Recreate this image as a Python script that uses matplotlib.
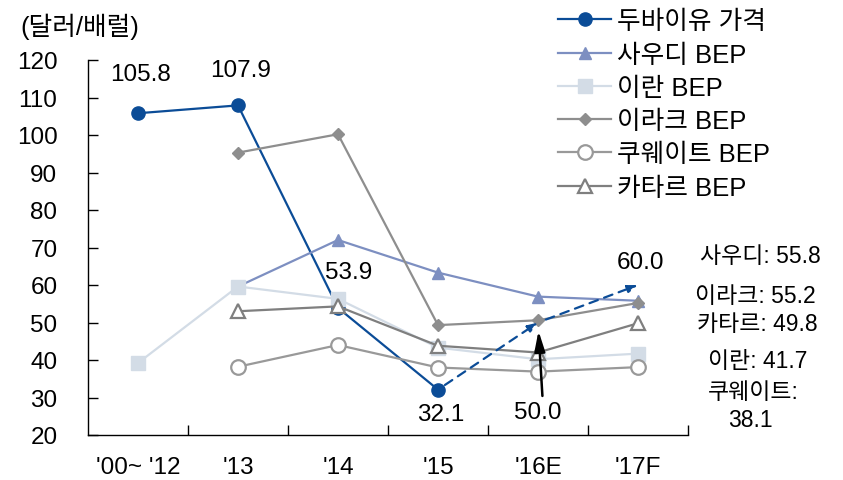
import matplotlib
matplotlib.use("Agg")
import matplotlib.pyplot as plt
from matplotlib.ticker import FixedLocator

plt.rcParams['font.family'] = ['Liberation Sans', 'Noto Sans CJK KR', 'DejaVu Sans']

categories = ["'00~ '12", "'13", "'14", "'15", "'16E", "'17F"]
dubai = [105.8, 107.9, 53.9, 32.1, 50.0, 60.0]
saudi = [None, 59.6, 72.0, 63.3, 56.9, 55.8]
iran = [39.2, 59.6, 56.3, 43.3, 40.2, 41.7]
iraq = [None, 95.3, 100.2, 49.3, 50.6, 55.2]
kuwait = [None, 38.2, 44.0, 38.0, 36.9, 38.1]
qatar = [None, 53.0, 54.3, 43.8, 42.0, 49.8]
yticks = [20, 30, 40, 50, 60, 70, 80, 90, 100, 110, 120]

names = ['두바이유 가격', '사우디 BEP', '이란 BEP', '이라크 BEP', '쿠웨이트 BEP', '카타르 BEP']

c_dubai = '#0B4C97'
c_saudi = '#7D8FC1'
c_iran = '#D3DCE6'
c_iraq = '#8E8E8E'
c_kuwait = '#999999'
c_qatar = '#7F7F7F'

FS = 17.5

fig = plt.figure(figsize=(8.43, 4.81), dpi=100)
ax = fig.add_axes([88/843, 45/481, 600/843, 375/481])

x = list(range(len(categories)))

def xy(vals, upto=None):
    pts = [(i, v) for i, v in enumerate(vals) if v is not None]
    if upto is not None:
        pts = [p for p in pts if p[0] <= upto]
    return [p[0] for p in pts], [p[1] for p in pts]

dx, dy = xy(dubai, upto=3)
h_dubai, = ax.plot(dx, dy, color=c_dubai, lw=1.6, marker='o', ms=9.5, mfc=c_dubai, mec=c_dubai, zorder=2)
for i in (3, 4):
    ax.annotate('', xy=(i + 1, dubai[i + 1]), xytext=(i, dubai[i]),
                arrowprops=dict(arrowstyle='-|>,head_length=0.6,head_width=0.22', color=c_dubai,
                                lw=1.6, linestyle=(0, (4, 3)), shrinkA=6, shrinkB=0),
                zorder=6)

sx, sy = xy(saudi)
h_saudi, = ax.plot(sx, sy, color=c_saudi, lw=1.6, marker='^', ms=9, mfc=c_saudi, mec=c_saudi, zorder=3)
ix, iy = xy(iran)
h_iran, = ax.plot(ix, iy, color=c_iran, lw=1.6, marker='s', ms=10, mfc=c_iran, mec=c_iran, zorder=4)
qx_, qy_ = xy(iraq)
h_iraq, = ax.plot(qx_, qy_, color=c_iraq, lw=1.6, marker='D', ms=6.5, mfc=c_iraq, mec=c_iraq, zorder=5)
kx, ky = xy(kuwait)
h_kuwait, = ax.plot(kx, ky, color=c_kuwait, lw=1.6, marker='o', ms=10.5, mfc='white', mec=c_kuwait, mew=1.6, zorder=5)
tx, ty = xy(qatar)
h_qatar, = ax.plot(tx, ty, color=c_qatar, lw=1.6, marker='^', ms=10.5, mfc='white', mec=c_qatar, mew=1.6, zorder=5)

ax.set_xlim(-0.5, 5.5)
ax.set_ylim(20, 120)
ax.set_xticks(x)
ax.set_xticklabels(categories)
ax.xaxis.set_minor_locator(FixedLocator([i + 0.5 for i in range(len(categories))]))
ax.set_yticks(yticks)
ax.tick_params(axis='x', which='major', length=0, pad=15, labelsize=FS)
ax.tick_params(axis='x', which='minor', direction='in', length=7, width=1)
ax.tick_params(axis='y', direction='in', length=7, width=1, pad=22, labelsize=FS)
for s in ('top', 'right'):
    ax.spines[s].set_visible(False)
for s in ('left', 'bottom'):
    ax.spines[s].set_linewidth(1)

offs = {0: (2, 39), 1: (3, 35), 2: (11, 36), 3: (3, -24), 5: (3, 23)}
for i, (ox, oy) in offs.items():
    ax.annotate(f'{dubai[i]:.1f}', xy=(i, dubai[i]), xytext=(ox, oy), textcoords='offset pixels',
                ha='center', va='center', fontsize=FS, zorder=7)
ax.annotate(f'{dubai[4]:.1f}', xy=(4, dubai[4]), xytext=(0, -90), textcoords='offset pixels',
            ha='center', va='center', fontsize=FS, zorder=7,
            arrowprops=dict(arrowstyle='-|>,head_length=0.7,head_width=0.18', color='black', lw=1.8,
                            shrinkA=2, shrinkB=6, relpos=(0.6, 1.0)))

last = {'사우디': saudi[-1], '이라크': iraq[-1], '카타르': qatar[-1], '이란': iran[-1], '쿠웨이트': kuwait[-1]}
fs = 16.5
fig.text(760/843, 1 - 257/481, f'사우디: {last["사우디"]}', ha='center', va='center', fontsize=fs)
fig.text(755/843, 1 - 297/481, f'이라크: {last["이라크"]}', ha='center', va='center', fontsize=fs)
fig.text(757/843, 1 - 325/481, f'카타르: {last["카타르"]}', ha='center', va='center', fontsize=fs)
fig.text(758/843, 1 - 362/481, f'이란: {last["이란"]}', ha='center', va='center', fontsize=fs)
fig.text(753/843, 1 - 393/481, '쿠웨이트:', ha='center', va='center', fontsize=fs)
fig.text(750/843, 1 - 421/481, f'{last["쿠웨이트"]}', ha='center', va='center', fontsize=fs)

fig.text(20/843, 1 - 27/481, '(달러/배럴)', ha='left', va='center', fontsize=18.5)

fig.legend([h_dubai, h_saudi, h_iran, h_iraq, h_kuwait, h_qatar], names,
           loc='upper left', bbox_to_anchor=(548/843, 1 - 0/481), frameon=False,
           fontsize=18.5, handlelength=2.05, handletextpad=0.22, labelspacing=0.36, borderaxespad=0)

fig.savefig('out.png', dpi=100)
